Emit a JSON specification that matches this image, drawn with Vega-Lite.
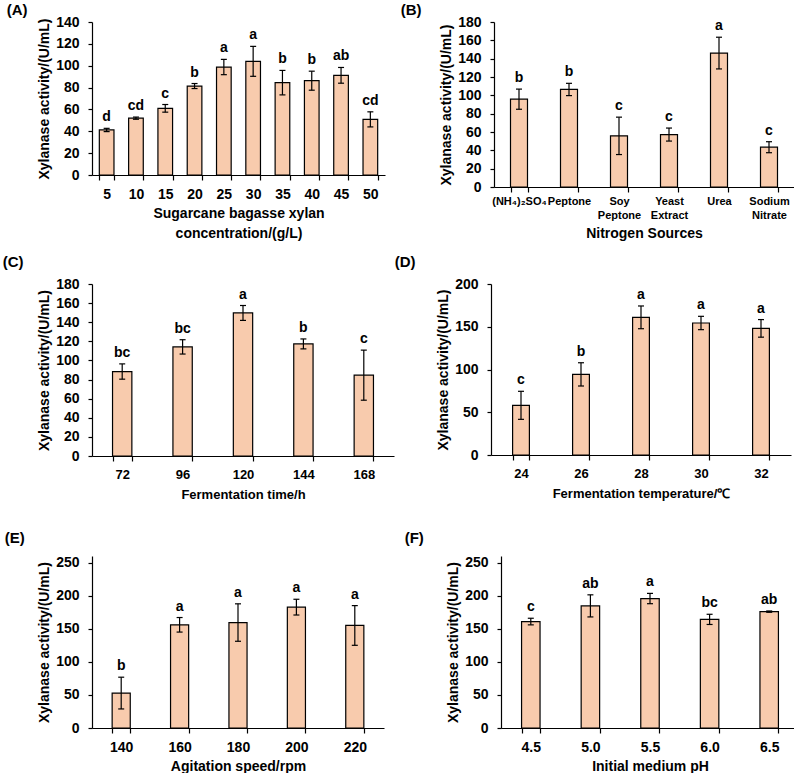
{
  "$schema": "https://vega.github.io/schema/vega-lite/v6.json",
  "background": "white",
  "padding": {"left": 2, "right": 0, "top": 3, "bottom": 0},
  "datasets": {
    "A": [
      {"level": "5", "mean": 41.2, "lo": 39.7, "hi": 42.7, "group": "d"},
      {"level": "10", "mean": 52.0, "lo": 51.0, "hi": 53.0, "group": "cd"},
      {"level": "15", "mean": 61.0, "lo": 57.5, "hi": 64.5, "group": "c"},
      {"level": "20", "mean": 81.4, "lo": 79.1, "hi": 83.7, "group": "b"},
      {"level": "25", "mean": 98.8, "lo": 91.8, "hi": 105.8, "group": "a"},
      {"level": "30", "mean": 104.0, "lo": 90.3, "hi": 117.7, "group": "a"},
      {"level": "35", "mean": 84.5, "lo": 73.3, "hi": 95.7, "group": "b"},
      {"level": "40", "mean": 86.3, "lo": 77.6, "hi": 95.0, "group": "b"},
      {"level": "45", "mean": 91.2, "lo": 84.0, "hi": 98.4, "group": "ab"},
      {"level": "50", "mean": 50.9, "lo": 44.0, "hi": 57.8, "group": "cd"}
    ],
    "B": [
      {"level": "(NH₄)₂SO₄", "mean": 95.8, "lo": 84.8, "hi": 106.8, "group": "b"},
      {"level": "Peptone", "mean": 106.4, "lo": 99.7, "hi": 113.1, "group": "b"},
      {"level": "Soy Peptone", "mean": 55.8, "lo": 35.4, "hi": 76.2, "group": "c"},
      {"level": "Yeast Extract", "mean": 57.2, "lo": 50.1, "hi": 64.3, "group": "c"},
      {"level": "Urea", "mean": 146.1, "lo": 128.8, "hi": 163.4, "group": "a"},
      {"level": "Sodium Nitrate", "mean": 43.4, "lo": 37.4, "hi": 49.4, "group": "c"}
    ],
    "C": [
      {"level": "72", "mean": 88.4, "lo": 80.4, "hi": 96.4, "group": "bc"},
      {"level": "96", "mean": 114.2, "lo": 106.7, "hi": 121.7, "group": "bc"},
      {"level": "120", "mean": 149.7, "lo": 141.9, "hi": 157.5, "group": "a"},
      {"level": "144", "mean": 117.3, "lo": 112.1, "hi": 122.5, "group": "b"},
      {"level": "168", "mean": 84.6, "lo": 58.4, "hi": 110.8, "group": "c"}
    ],
    "D": [
      {"level": "24", "mean": 58.1, "lo": 41.7, "hi": 74.5, "group": "c"},
      {"level": "26", "mean": 94.3, "lo": 80.7, "hi": 107.9, "group": "b"},
      {"level": "28", "mean": 161.0, "lo": 147.7, "hi": 174.3, "group": "a"},
      {"level": "30", "mean": 154.4, "lo": 146.6, "hi": 162.2, "group": "a"},
      {"level": "32", "mean": 148.1, "lo": 137.8, "hi": 158.4, "group": "a"}
    ],
    "E": [
      {"level": "140", "mean": 52.8, "lo": 28.8, "hi": 76.8, "group": "b"},
      {"level": "160", "mean": 156.0, "lo": 145.0, "hi": 167.0, "group": "a"},
      {"level": "180", "mean": 159.4, "lo": 131.1, "hi": 187.7, "group": "a"},
      {"level": "200", "mean": 182.7, "lo": 170.8, "hi": 194.6, "group": "a"},
      {"level": "220", "mean": 155.0, "lo": 125.0, "hi": 185.0, "group": "a"}
    ],
    "F": [
      {"level": "4.5", "mean": 160.9, "lo": 155.9, "hi": 165.9, "group": "c"},
      {"level": "5.0", "mean": 184.6, "lo": 167.9, "hi": 201.3, "group": "ab"},
      {"level": "5.5", "mean": 195.7, "lo": 187.9, "hi": 203.5, "group": "a"},
      {"level": "6.0", "mean": 164.2, "lo": 156.5, "hi": 171.9, "group": "bc"},
      {"level": "6.5", "mean": 175.9, "lo": 174.9, "hi": 176.9, "group": "ab"}
    ]
  },
  "vconcat": [
    {
      "hconcat": [
        {
          "title": {"text": "(A)", "dx": -31, "offset": -3},
          "width": 293, "height": 153,
          "data": {"name": "A"},
          "encoding": {
            "x": {"field": "level", "type": "nominal", "sort": null,
                  "scale": {"paddingInner": 0.5, "paddingOuter": 0.25},
                  "axis": {"title": ["Sugarcane bagasse xylan", "concentration/(g/L)"], "titleLineHeight": 20}}
          },
          "layer": [
            {"mark": {"type": "bar", "fill": "#F8CBAD", "stroke": "#000", "strokeWidth": 1.2},
             "encoding": {"y": {"field": "mean", "type": "quantitative", "scale": {"domain": [0, 140]},
                                "axis": {"values": [0, 20, 40, 60, 80, 100, 120, 140], "labelOverlap": false},
                                "title": "Xylanase activity/(U/mL)"}}},
            {"mark": {"type": "rule", "color": "#000", "strokeWidth": 1.2},
             "encoding": {"y": {"field": "lo", "type": "quantitative", "axis": {"values": [0, 20, 40, 60, 80, 100, 120, 140], "labelOverlap": false}, "title": "Xylanase activity/(U/mL)"}, "y2": {"field": "hi"}}},
            {"mark": {"type": "tick", "orient": "horizontal", "color": "#000", "size": 6, "thickness": 1.2, "opacity": 1},
             "encoding": {"y": {"field": "lo", "type": "quantitative", "axis": {"values": [0, 20, 40, 60, 80, 100, 120, 140], "labelOverlap": false}, "title": "Xylanase activity/(U/mL)"}}},
            {"mark": {"type": "tick", "orient": "horizontal", "color": "#000", "size": 6, "thickness": 1.2, "opacity": 1},
             "encoding": {"y": {"field": "hi", "type": "quantitative", "axis": {"values": [0, 20, 40, 60, 80, 100, 120, 140], "labelOverlap": false}, "title": "Xylanase activity/(U/mL)"}}},
            {"mark": {"type": "text", "baseline": "alphabetic", "dy": -7, "fontWeight": "bold", "fontSize": 14, "color": "#000"},
             "encoding": {"y": {"field": "hi", "type": "quantitative", "axis": {"values": [0, 20, 40, 60, 80, 100, 120, 140], "labelOverlap": false}, "title": "Xylanase activity/(U/mL)"}, "text": {"field": "group"}}}
          ]
        },
        {
          "title": {"text": "(B)", "dx": -39, "offset": -3},
          "width": 300, "height": 165,
          "data": {"name": "B"},
          "encoding": {
            "x": {"field": "level", "type": "nominal", "sort": null,
                  "scale": {"paddingInner": 0.66, "paddingOuter": 0.33},
                  "axis": {"title": "Nitrogen Sources", "labelFontSize": 11, "labelPadding": 3, "labelLineHeight": 14, "titlePadding": 6,
                           "labelExpr": "split(datum.label, ' ')"}}
          },
          "layer": [
            {"mark": {"type": "bar", "fill": "#F8CBAD", "stroke": "#000", "strokeWidth": 1.2},
             "encoding": {"y": {"field": "mean", "type": "quantitative", "scale": {"domain": [0, 180]},
                                "axis": {"values": [0, 20, 40, 60, 80, 100, 120, 140, 160, 180], "labelOverlap": false},
                                "title": "Xylanase activity/(U/mL)"}}},
            {"mark": {"type": "rule", "color": "#000", "strokeWidth": 1.2},
             "encoding": {"y": {"field": "lo", "type": "quantitative", "axis": {"values": [0, 20, 40, 60, 80, 100, 120, 140, 160, 180], "labelOverlap": false}, "title": "Xylanase activity/(U/mL)"}, "y2": {"field": "hi"}}},
            {"mark": {"type": "tick", "orient": "horizontal", "color": "#000", "size": 6, "thickness": 1.2, "opacity": 1},
             "encoding": {"y": {"field": "lo", "type": "quantitative", "axis": {"values": [0, 20, 40, 60, 80, 100, 120, 140, 160, 180], "labelOverlap": false}, "title": "Xylanase activity/(U/mL)"}}},
            {"mark": {"type": "tick", "orient": "horizontal", "color": "#000", "size": 6, "thickness": 1.2, "opacity": 1},
             "encoding": {"y": {"field": "hi", "type": "quantitative", "axis": {"values": [0, 20, 40, 60, 80, 100, 120, 140, 160, 180], "labelOverlap": false}, "title": "Xylanase activity/(U/mL)"}}},
            {"mark": {"type": "text", "baseline": "alphabetic", "dy": -7, "fontWeight": "bold", "fontSize": 14, "color": "#000"},
             "encoding": {"y": {"field": "hi", "type": "quantitative", "axis": {"values": [0, 20, 40, 60, 80, 100, 120, 140, 160, 180], "labelOverlap": false}, "title": "Xylanase activity/(U/mL)"}, "text": {"field": "group"}}}
          ]
        }
      ],
      "spacing": 15
    },
    {
      "vconcat": [
        {
          "hconcat": [
            {
              "title": {"text": "(C)", "dx": -35, "offset": 7},
              "width": 302, "height": 172,
              "data": {"name": "C"},
              "encoding": {
                "x": {"field": "level", "type": "nominal", "sort": null,
                      "scale": {"paddingInner": 0.68, "paddingOuter": 0.34},
                      "axis": {"title": "Fermentation time/h", "labelFontSize": 13, "titleFontSize": 13, "titlePadding": 7}}
              },
              "layer": [
                {"mark": {"type": "bar", "fill": "#F8CBAD", "stroke": "#000", "strokeWidth": 1.2},
                 "encoding": {"y": {"field": "mean", "type": "quantitative", "scale": {"domain": [0, 180]},
                                    "axis": {"values": [0, 20, 40, 60, 80, 100, 120, 140, 160, 180], "labelOverlap": false},
                                    "title": "Xylanase activity/(U/mL)"}}},
                {"mark": {"type": "rule", "color": "#000", "strokeWidth": 1.2},
                 "encoding": {"y": {"field": "lo", "type": "quantitative", "axis": {"values": [0, 20, 40, 60, 80, 100, 120, 140, 160, 180], "labelOverlap": false}, "title": "Xylanase activity/(U/mL)"}, "y2": {"field": "hi"}}},
                {"mark": {"type": "tick", "orient": "horizontal", "color": "#000", "size": 6, "thickness": 1.2, "opacity": 1},
                 "encoding": {"y": {"field": "lo", "type": "quantitative", "axis": {"values": [0, 20, 40, 60, 80, 100, 120, 140, 160, 180], "labelOverlap": false}, "title": "Xylanase activity/(U/mL)"}}},
                {"mark": {"type": "tick", "orient": "horizontal", "color": "#000", "size": 6, "thickness": 1.2, "opacity": 1},
                 "encoding": {"y": {"field": "hi", "type": "quantitative", "axis": {"values": [0, 20, 40, 60, 80, 100, 120, 140, 160, 180], "labelOverlap": false}, "title": "Xylanase activity/(U/mL)"}}},
                {"mark": {"type": "text", "baseline": "alphabetic", "dy": -7, "fontWeight": "bold", "fontSize": 14, "color": "#000"},
                 "encoding": {"y": {"field": "hi", "type": "quantitative", "axis": {"values": [0, 20, 40, 60, 80, 100, 120, 140, 160, 180], "labelOverlap": false}, "title": "Xylanase activity/(U/mL)"}, "text": {"field": "group"}}}
              ]
            },
            {
              "title": {"text": "(D)", "dx": -42, "offset": 7},
              "width": 300, "height": 171,
              "data": {"name": "D"},
              "encoding": {
                "x": {"field": "level", "type": "nominal", "sort": null,
                      "scale": {"paddingInner": 0.72, "paddingOuter": 0.36},
                      "axis": {"title": "Fermentation temperature/℃", "labelFontSize": 13, "titleFontSize": 13, "titlePadding": 7}}
              },
              "layer": [
                {"mark": {"type": "bar", "fill": "#F8CBAD", "stroke": "#000", "strokeWidth": 1.2},
                 "encoding": {"y": {"field": "mean", "type": "quantitative", "scale": {"domain": [0, 200]},
                                    "axis": {"values": [0, 50, 100, 150, 200], "labelOverlap": false},
                                    "title": "Xylanase activity/(U/mL)"}}},
                {"mark": {"type": "rule", "color": "#000", "strokeWidth": 1.2},
                 "encoding": {"y": {"field": "lo", "type": "quantitative", "axis": {"values": [0, 50, 100, 150, 200], "labelOverlap": false}, "title": "Xylanase activity/(U/mL)"}, "y2": {"field": "hi"}}},
                {"mark": {"type": "tick", "orient": "horizontal", "color": "#000", "size": 6, "thickness": 1.2, "opacity": 1},
                 "encoding": {"y": {"field": "lo", "type": "quantitative", "axis": {"values": [0, 50, 100, 150, 200], "labelOverlap": false}, "title": "Xylanase activity/(U/mL)"}}},
                {"mark": {"type": "tick", "orient": "horizontal", "color": "#000", "size": 6, "thickness": 1.2, "opacity": 1},
                 "encoding": {"y": {"field": "hi", "type": "quantitative", "axis": {"values": [0, 50, 100, 150, 200], "labelOverlap": false}, "title": "Xylanase activity/(U/mL)"}}},
                {"mark": {"type": "text", "baseline": "alphabetic", "dy": -7, "fontWeight": "bold", "fontSize": 14, "color": "#000"},
                 "encoding": {"y": {"field": "hi", "type": "quantitative", "axis": {"values": [0, 50, 100, 150, 200], "labelOverlap": false}, "title": "Xylanase activity/(U/mL)"}, "text": {"field": "group"}}}
              ]
            }
          ],
          "spacing": 0
        },
        {
          "hconcat": [
            {
              "title": {"text": "(E)", "dx": -33, "offset": 9.5},
              "width": 292, "height": 172,
              "data": {"name": "E"},
              "encoding": {
                "x": {"field": "level", "type": "nominal", "sort": null,
                      "scale": {"paddingInner": 0.69, "paddingOuter": 0.345},
                      "axis": {"title": "Agitation speed/rpm"}}
              },
              "layer": [
                {"mark": {"type": "bar", "fill": "#F8CBAD", "stroke": "#000", "strokeWidth": 1.2},
                 "encoding": {"y": {"field": "mean", "type": "quantitative", "scale": {"domain": [0, 250]},
                                    "axis": {"values": [0, 50, 100, 150, 200, 250], "labelOverlap": false},
                                    "title": "Xylanase activity/(U/mL)"}}},
                {"mark": {"type": "rule", "color": "#000", "strokeWidth": 1.2},
                 "encoding": {"y": {"field": "lo", "type": "quantitative", "axis": {"values": [0, 50, 100, 150, 200, 250], "labelOverlap": false}, "title": "Xylanase activity/(U/mL)"}, "y2": {"field": "hi"}}},
                {"mark": {"type": "tick", "orient": "horizontal", "color": "#000", "size": 6, "thickness": 1.2, "opacity": 1},
                 "encoding": {"y": {"field": "lo", "type": "quantitative", "axis": {"values": [0, 50, 100, 150, 200, 250], "labelOverlap": false}, "title": "Xylanase activity/(U/mL)"}}},
                {"mark": {"type": "tick", "orient": "horizontal", "color": "#000", "size": 6, "thickness": 1.2, "opacity": 1},
                 "encoding": {"y": {"field": "hi", "type": "quantitative", "axis": {"values": [0, 50, 100, 150, 200, 250], "labelOverlap": false}, "title": "Xylanase activity/(U/mL)"}}},
                {"mark": {"type": "text", "baseline": "alphabetic", "dy": -7, "fontWeight": "bold", "fontSize": 14, "color": "#000"},
                 "encoding": {"y": {"field": "hi", "type": "quantitative", "axis": {"values": [0, 50, 100, 150, 200, 250], "labelOverlap": false}, "title": "Xylanase activity/(U/mL)"}, "text": {"field": "group"}}}
              ]
            },
            {
              "title": {"text": "(F)", "dx": -42, "offset": 9.5},
              "width": 298, "height": 172,
              "data": {"name": "F"},
              "encoding": {
                "x": {"field": "level", "type": "nominal", "sort": null,
                      "scale": {"paddingInner": 0.69, "paddingOuter": 0.345},
                      "axis": {"title": "Initial medium pH"}}
              },
              "layer": [
                {"mark": {"type": "bar", "fill": "#F8CBAD", "stroke": "#000", "strokeWidth": 1.2},
                 "encoding": {"y": {"field": "mean", "type": "quantitative", "scale": {"domain": [0, 250]},
                                    "axis": {"values": [0, 50, 100, 150, 200, 250], "labelOverlap": false},
                                    "title": "Xylanase activity/(U/mL)"}}},
                {"mark": {"type": "rule", "color": "#000", "strokeWidth": 1.2},
                 "encoding": {"y": {"field": "lo", "type": "quantitative", "axis": {"values": [0, 50, 100, 150, 200, 250], "labelOverlap": false}, "title": "Xylanase activity/(U/mL)"}, "y2": {"field": "hi"}}},
                {"mark": {"type": "tick", "orient": "horizontal", "color": "#000", "size": 6, "thickness": 1.2, "opacity": 1},
                 "encoding": {"y": {"field": "lo", "type": "quantitative", "axis": {"values": [0, 50, 100, 150, 200, 250], "labelOverlap": false}, "title": "Xylanase activity/(U/mL)"}}},
                {"mark": {"type": "tick", "orient": "horizontal", "color": "#000", "size": 6, "thickness": 1.2, "opacity": 1},
                 "encoding": {"y": {"field": "hi", "type": "quantitative", "axis": {"values": [0, 50, 100, 150, 200, 250], "labelOverlap": false}, "title": "Xylanase activity/(U/mL)"}}},
                {"mark": {"type": "text", "baseline": "alphabetic", "dy": -7, "fontWeight": "bold", "fontSize": 14, "color": "#000"},
                 "encoding": {"y": {"field": "hi", "type": "quantitative", "axis": {"values": [0, 50, 100, 150, 200, 250], "labelOverlap": false}, "title": "Xylanase activity/(U/mL)"}, "text": {"field": "group"}}}
              ]
            }
          ],
          "spacing": 20
        }
      ],
      "spacing": 30
    }
  ],
  "spacing": 15,
  "config": {
    "view": {"stroke": null},
    "font": "Liberation Sans",
    "axis": {
      "grid": false, "labelOverlap": false,
      "labelFont": "Liberation Sans", "labelFontWeight": "bold", "labelFontSize": 14, "labelColor": "#000",
      "titleFont": "Liberation Sans", "titleFontWeight": "bold", "titleFontSize": 14, "titleColor": "#000",
      "domainColor": "#000", "domainWidth": 1.2, "tickColor": "#000", "tickWidth": 1.2, "tickSize": 5
    },
    "axisX": {"labelAngle": 0, "tickBand": "extent", "labelPadding": 7, "titlePadding": 5},
    "axisY": {"labelPadding": 9, "titlePadding": 4, "tickSize": 4},
    "title": {"font": "Liberation Sans", "fontWeight": "bold", "fontSize": 15, "anchor": "start", "frame": "bounds", "color": "#000"}
  }
}
